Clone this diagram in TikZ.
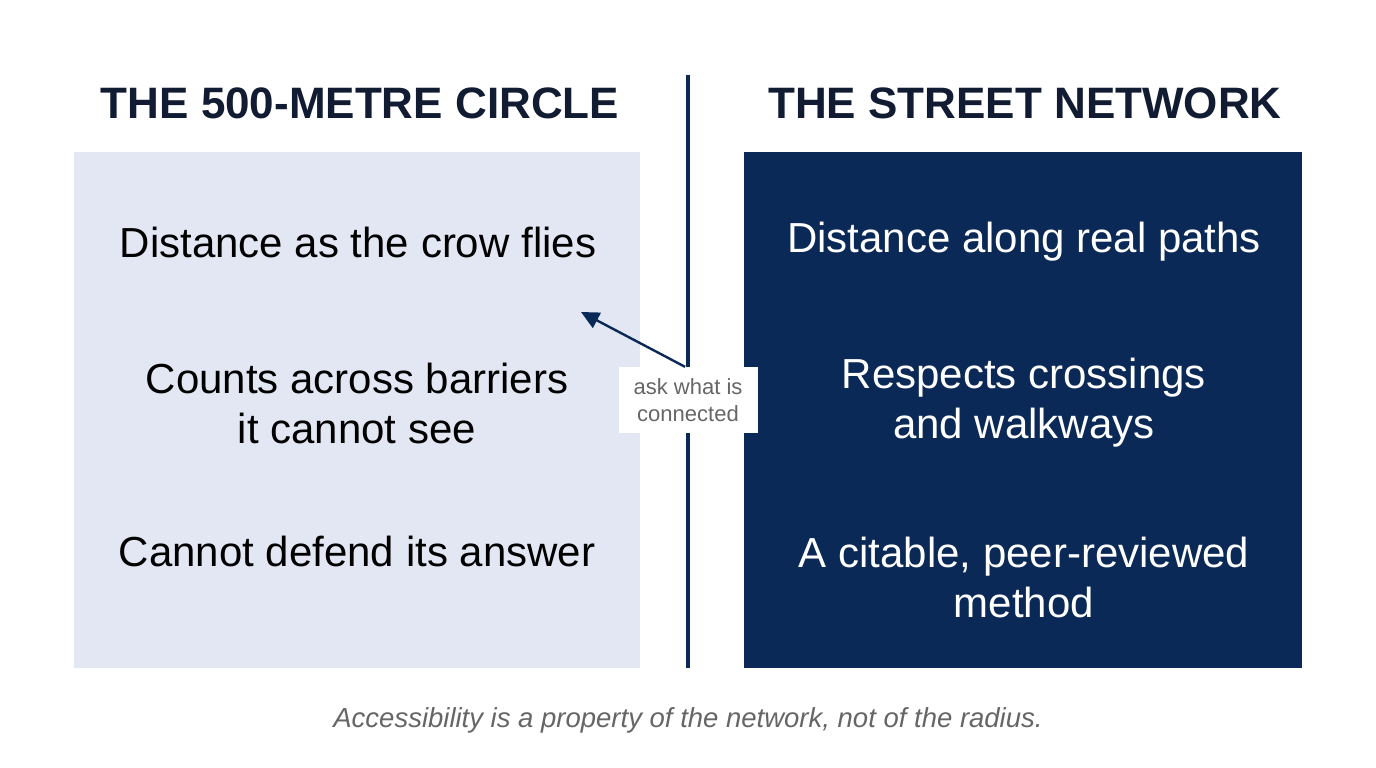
\documentclass[tikz,border=0pt]{standalone}
\usepackage{fontspec}
\setmainfont{Liberation Sans}
\usetikzlibrary{arrows.meta}
\definecolor{navy}{HTML}{0B2956}
\definecolor{tnavy}{HTML}{111C33}
\definecolor{pale}{HTML}{E3E7F3}
\definecolor{gray1}{HTML}{666666}
\tikzset{
  title/.style={font=\fontsize{44}{50}\selectfont\bfseries, text=tnavy},
  ltxt/.style={font=\fontsize{42}{50}\selectfont, text=black, align=center},
  rtxt/.style={font=\fontsize{42}{50}\selectfont, text=white, align=center},
}
\begin{document}
\begin{tikzpicture}[x=1pt,y=-1pt]
\useasboundingbox (0,0) rectangle (1376,768);
\fill[white] (0,0) rectangle (1376,768);
\fill[pale] (74,152) rectangle (640,668);
\fill[navy] (744,152) rectangle (1302,668);
\draw[navy, line width=4pt] (688,75) -- (688,668);
\node[title] (t1) at (360,103) {THE 500-METRE CIRCLE};
\node[title] (t2) at (1025,103) {THE STREET NETWORK};
\node[ltxt] (l1) at (358,242) {Distance as the crow flies};
\node[ltxt] (l2) at (357,403) {Counts across barriers\\it cannot see};
\node[ltxt] (l3) at (357,551) {Cannot defend its answer};
\node[rtxt] (r1) at (1024,242) {Distance along real paths};
\node[rtxt] (r2) at (1024,403) {Respects crossings\\and walkways};
\node[rtxt] (r3) at (1024,577) {A citable, peer-reviewed\\method};
\node[fill=white, minimum width=139pt, minimum height=66pt, text=gray1, align=center,
  font=\fontsize{22}{27}\selectfont] (lab) at (688,400) {ask what is\\connected};
\coordinate (tip) at (581,312);
\draw[navy, line width=2.4pt, -{Triangle[length=18pt,width=17pt]}] (lab.north) ++(-3,0) coordinate (s) (s) -- (tip);
\node[font=\fontsize{27.5}{30}\selectfont\itshape, text=gray1] (cap) at (688,720) {Accessibility is a property of the network, not of the radius.};
\end{tikzpicture}
\end{document}
